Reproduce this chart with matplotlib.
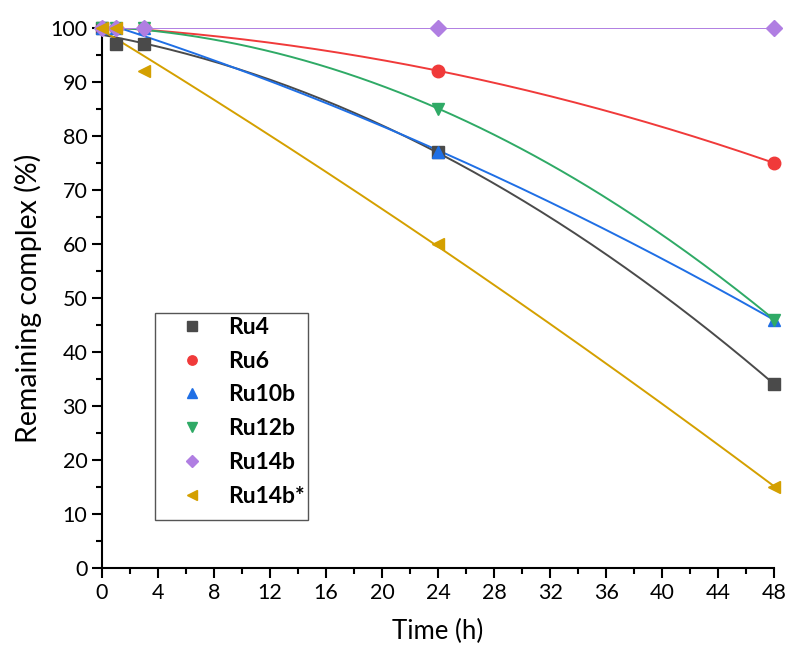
import numpy as np
import matplotlib
matplotlib.use('Agg')
import matplotlib.pyplot as plt
from matplotlib.ticker import MultipleLocator
from matplotlib.patches import Rectangle

plt.rcParams['font.family'] = ['Lato', 'DejaVu Sans']

# Datos
tiempo = [0, 1, 3, 24, 48]
ru4 = [100, 97, 97, 77, 34]
ru6 = [100, 100, 100, 92, 75]
ru10b = [100, 100, 100, 77, 46]
ru12b = [100, 100, 100, 85, 46]
ru14b = [100, 100, 100, 100, 100]
ru14b_star = [100, 100, 92, 60, 15]

series = [
    ('Ru4', ru4, 's', '#4a4a4a', 2),
    ('Ru6', ru6, 'o', '#f03a3a', 2),
    ('Ru10b', ru10b, '^', '#1f6fe5', 2),
    ('Ru12b', ru12b, 'v', '#2faa66', 2),
    ('Ru14b', ru14b, 'D', '#b07ee2', 1),
    ('Ru14b*', ru14b_star, '<', '#d4a000', 2),
]

fig = plt.figure(figsize=(7.9, 6.57), dpi=100)
ax = fig.add_axes([0.129, 0.1355, 0.851, 0.822])

t_fit = np.linspace(0, 48, 200)
for nombre, valores, marca, color, grado in series:
    coef = np.polyfit(tiempo, valores, grado)
    ax.plot(t_fit, np.polyval(coef, t_fit), color=color, lw=1.4, zorder=2)
    ms = 8 if marca == 'D' else 9
    ax.plot(tiempo, valores, marca, color=color, ms=ms, ls='none',
            label=nombre, clip_on=False, zorder=3)

ax.set_xlim(0, 48)
ax.set_ylim(0, 100)
ax.xaxis.set_major_locator(MultipleLocator(4))
ax.xaxis.set_minor_locator(MultipleLocator(2))
ax.yaxis.set_major_locator(MultipleLocator(10))
ax.yaxis.set_minor_locator(MultipleLocator(5))
ax.tick_params(which='major', direction='out', length=7, width=1.5, labelsize=15.5)
ax.tick_params(which='minor', direction='out', length=4, width=1.5)
for lado in ['top', 'right']:
    ax.spines[lado].set_visible(False)
for lado in ['left', 'bottom']:
    ax.spines[lado].set_linewidth(1.5)

ax.set_xlabel('Time (h)', fontsize=18.5, labelpad=12)
ax.set_ylabel('Remaining complex (%)', fontsize=20.5, labelpad=6)

# leyenda sin marco; el marco se dibuja aparte (el texto sobresale como en el original)
leg = ax.legend(loc='upper left', bbox_to_anchor=(0.085, 0.495), fontsize=16.5,
                frameon=False, markerscale=0.75, handletextpad=0.8, borderpad=0.2,
                labelspacing=0.56, handlelength=1.5)
for txt in leg.get_texts():
    txt.set_fontweight('bold')
ax.add_patch(Rectangle((0.079, 0.089), 0.228, 0.383, transform=ax.transAxes,
                       fill=False, edgecolor='#555555', lw=1.0, clip_on=False, zorder=1))

fig.savefig('out.png', dpi=100)
